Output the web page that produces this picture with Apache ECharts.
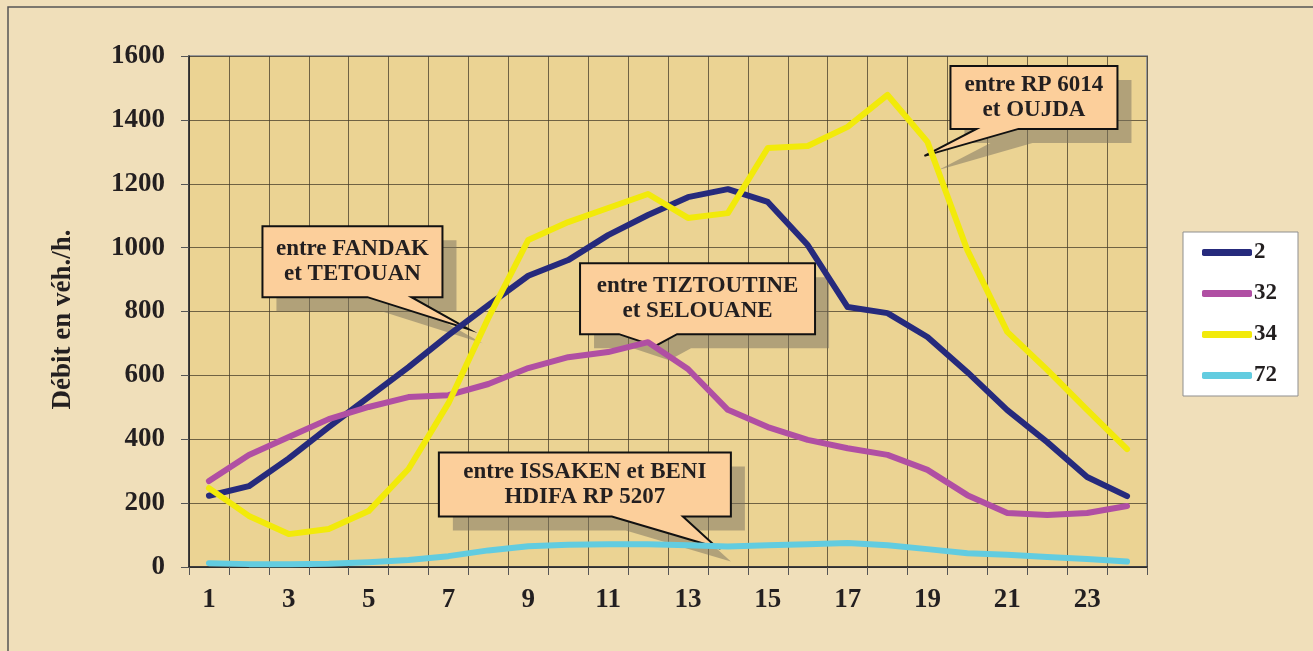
<!DOCTYPE html>
<html>
<head>
<meta charset="utf-8">
<script src="https://cdn.jsdelivr.net/npm/echarts@6/dist/echarts.min.js"></script>
<style>
  html, body { margin: 0; padding: 0; background: #f0dfba; }
  #chart { width: 1313px; height: 651px; }
</style>
</head>
<body>
<div id="chart"></div>
<script>
// hours of the day (x axis)
const hours = ['1', '2', '3', '4', '5', '6', '7', '8', '9', '10', '11', '12',
  '13', '14', '15', '16', '17', '18', '19', '20', '21', '22', '23', '24']

// débit par route (véh./h.)
const route2 = [223, 253, 340, 438, 532, 626, 726, 820, 912, 961, 1039, 1102,
  1158, 1183, 1143, 1008, 814, 795, 720, 610, 491, 391, 282, 222]
const route32 = [269, 351, 407, 463, 501, 532, 538, 573, 623, 657, 673, 704,
  620, 492, 438, 398, 372, 351, 304, 225, 169, 163, 169, 191]
const route34 = [247, 160, 103, 119, 175, 307, 513, 780, 1024, 1080, 1124, 1168,
  1093, 1108, 1312, 1318, 1378, 1478, 1331, 992, 736, 617, 492, 369]
const route72 = [12, 9, 9, 10, 15, 22, 34, 52, 65, 70, 71, 71,
  68, 64, 68, 71, 75, 68, 56, 43, 38, 31, 25, 17]

const routeNames = ['2', '32', '34', '72']
const routeColors = ['#262a7c', '#b04fa3', '#f2ea0a', '#62cce0']

// callouts: text + which point the arrow aims at
const callouts = [
  { text: 'entre FANDAK\net TETOUAN', series: 0, index: 6, off: [20, -6], box: [-206, -103, -26, -32], base: [-101, -57] },
  { text: 'entre TIZTOUTINE\net SELOUANE', series: 1, index: 11, off: [7, 4], box: [-75, -83, 160, -12], base: [-36, 22] },
  { text: 'entre ISSAKEN et BENI\nHDIFA RP 5207', series: 3, index: 13, off: [-11, 1], box: [-278, -95, 14, -31], base: [-105, -34] },
  { text: 'entre RP 6014\net OUJDA', series: 2, index: 18, off: [-3, 14], box: [26, -90, 193, -27], base: [52, 94] }
]

const serif = '"Liberation Serif", "Times New Roman", serif'
const ink = '#231f20'

const chart = echarts.init(document.getElementById('chart'))

const seriesData = [route2, route32, route34, route72]

chart.setOption({
  backgroundColor: '#f0dfba',
  animation: false,
  grid: {
    left: 189,
    top: 56,
    right: 166,
    bottom: 84,
    show: true,
    backgroundColor: '#ebd393',
    borderColor: '#9a9a9a',
    borderWidth: 2
  },
  legend: {
    orient: 'vertical',
    left: 1183,
    top: 232,
    data: routeNames,
    icon: 'roundRect',
    itemWidth: 50,
    itemHeight: 7,
    itemGap: 18,
    itemStyle: { borderWidth: 0 },
    backgroundColor: '#ffffff',
    borderColor: '#8f8f8f',
    borderWidth: 1,
    padding: [9, 21, 9, 19],
    textStyle: {
      fontFamily: serif,
      fontWeight: 'bold',
      fontSize: 23,
      lineHeight: 22,
      color: ink,
      padding: [0, 0, 0, -3]
    }
  },
  xAxis: {
    type: 'category',
    data: hours,
    boundaryGap: true,
    axisLine: { lineStyle: { color: '#222', width: 1.5 } },
    axisTick: { show: true, interval: 0, length: 8, lineStyle: { color: '#555' } },
    splitLine: { show: true, interval: 0, lineStyle: { color: 'rgba(70,60,40,0.75)', width: 1 } },
    axisLabel: {
      interval: 1,
      margin: 20,
      fontFamily: serif,
      fontWeight: 'bold',
      fontSize: 27,
      color: ink
    }
  },
  yAxis: {
    type: 'value',
    min: 0,
    max: 1600,
    interval: 200,
    name: 'Débit en véh./h.',
    nameLocation: 'middle',
    nameGap: 112,
    nameTextStyle: {
      fontFamily: serif,
      fontWeight: 'bold',
      fontSize: 27,
      color: ink,
      padding: [0, 16, 0, 0]
    },
    axisLine: { show: true, lineStyle: { color: '#222', width: 1.5 } },
    axisTick: { show: true, length: 8, lineStyle: { color: '#555' } },
    splitLine: { show: true, lineStyle: { color: 'rgba(70,60,40,0.75)', width: 1 } },
    axisLabel: {
      margin: 24,
      formatter: v => String(v),
      fontFamily: serif,
      fontWeight: 'bold',
      fontSize: 27,
      color: ink
    }
  },
  series: routeNames.map((name, i) => ({
    name: name,
    type: 'line',
    data: seriesData[i],
    symbol: 'none',
    smooth: false,
    itemStyle: { color: routeColors[i] },
    lineStyle: { color: routeColors[i], width: 6, cap: 'round', join: 'round' }
  }))
})

function calloutGraphic(c) {
  const p = chart.convertToPixel({ seriesIndex: c.series }, [c.index, seriesData[c.series][c.index]])
  const tipX = p[0] + c.off[0]
  const tipY = p[1] + c.off[1]
  const [x0, y0, x1, y1] = c.box
  const pts = [[x0, y0], [x1, y0], [x1, y1], [c.base[1], y1], [0, 0], [c.base[0], y1], [x0, y1]]
  return {
    type: 'group',
    x: tipX,
    y: tipY,
    z: 100,
    children: [
      {
        type: 'polygon',
        x: 14,
        y: 14,
        shape: { points: pts },
        style: { fill: 'rgba(120,112,96,0.5)' }
      },
      {
        type: 'polygon',
        shape: { points: pts },
        style: { fill: '#fccf9b', stroke: '#111', lineWidth: 2 }
      },
      {
        type: 'text',
        x: (x0 + x1) / 2,
        y: (y0 + y1) / 2,
        style: {
          text: c.text,
          fontFamily: serif,
          fontWeight: 'bold',
          fontSize: 23,
          lineHeight: 25,
          fill: ink,
          align: 'center',
          verticalAlign: 'middle'
        }
      }
    ]
  }
}

chart.setOption({
  graphic: [
    {
      type: 'rect',
      x: 8,
      y: 7,
      shape: { width: 1400, height: 700 },
      style: { fill: 'none', stroke: '#555', lineWidth: 1.5 },
      z: 100
    }
  ].concat(callouts.map(calloutGraphic))
})
</script>
</body>
</html>
